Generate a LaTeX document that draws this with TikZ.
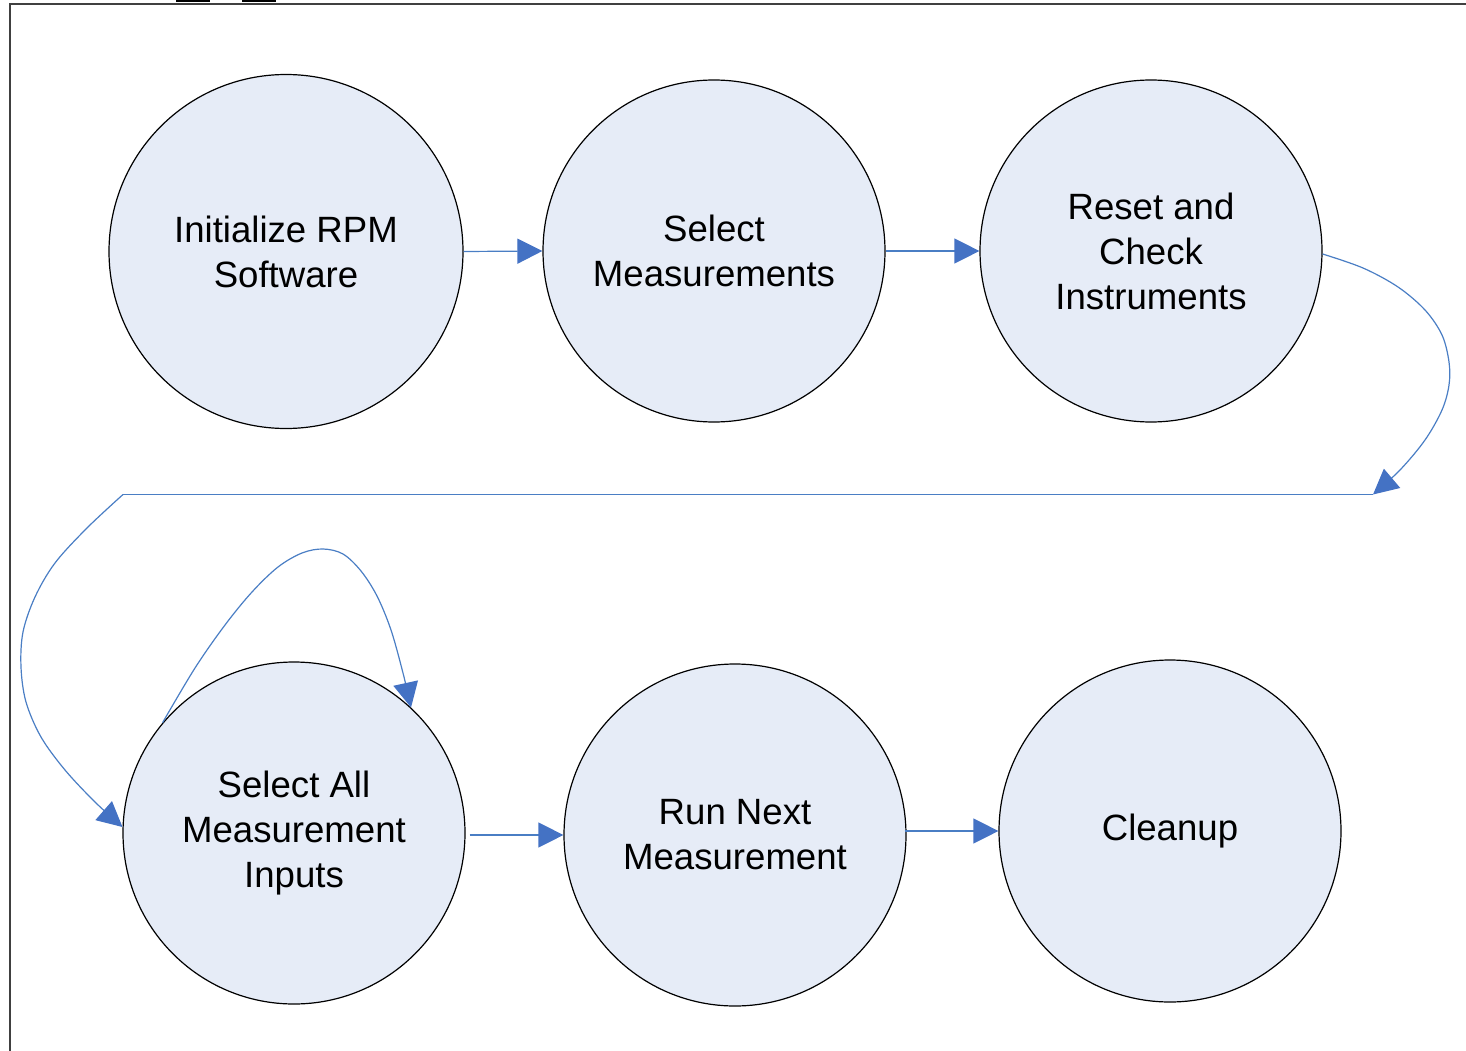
\documentclass[tikz,border=0pt]{standalone}
\usepackage{fontspec}
\setmainfont{Liberation Sans}
\usetikzlibrary{arrows.meta}
\definecolor{cfill}{RGB}{230,236,247}
\definecolor{cline}{RGB}{74,126,196}
\definecolor{chead}{RGB}{68,114,196}
\definecolor{cframe}{RGB}{64,64,64}
\begin{document}
\begin{tikzpicture}[x=1pt,y=-1pt,
  state/.style={circle,draw=black,line width=1.2pt,fill=cfill,inner sep=0pt,
    minimum size=342pt,align=center,font=\fontsize{36.6}{45}\selectfont},
  conn/.style={draw=cline,line width=1.2pt},
  arr/.style={conn,-{Triangle[length=25pt,width=25pt,fill=chead,color=chead]}},
  frameline/.style={draw=cframe,line width=2pt}]
\useasboundingbox (0,0) rectangle (1466,1051);
% frame
\draw[frameline] (10,1051) -- (10,4) -- (1466,4);
\draw[line width=1.5pt] (176,1.2) -- (210,1.2);
\draw[line width=1.5pt] (242,1.2) -- (276,1.2);
% states
\node[state,minimum size=354pt] (c1) at (286,251.5) {Initialize RPM\\Software};
\node[state] (c2) at (714,251) {Select\\Measurements};
\node[state] (c3) at (1151,251) {Reset and\\Check\\Instruments};
\node[state] (c4) at (294,833) {Select All\\Measurement\\Inputs};
\node[state] (c5) at (735,835) {Run Next\\Measurement};
\node[state] (c6) at (1170,831) {Cleanup};
% corners of the wrap-around connector
\coordinate (k1) at (1373,494.5);
\coordinate (k2) at (123,494.5);
% straight connectors
\draw[arr] (c1.east) -- (c2.west);
\draw[arr] (c2.east) -- (c3.west);
\draw[arr] ([xshift=4pt]c4.east |- c5.west) -- (c5.west);
\draw[arr] ([xshift=-2pt]c5.east |- c6.west) -- (c6.west);
% wrap-around connector
\draw[arr] plot[smooth,tension=0.55] coordinates {(c3.-1) (1363,268) (1398,287) (1425,310) (1442,335) (1449,362) (1449,385) (1442,410) (1425,440) (1400,470) (k1)};
\draw[conn] (k1) -- (k2);
\draw[arr] plot[smooth,tension=0.55] coordinates {(k2) (87,528) (55,563) (35,597) (23,632) (21,667) (26,702) (41,737) (65,770) (95,802) (c4.178)};
% self loop
\draw[arr] plot[smooth,tension=0.55] coordinates {(c4.140) (195,668) (225,625) (252,592) (278,567) (302,553) (323,549) (343,554) (361,571) (377,596) (391,630) (403,673) (c4.47)};
\end{tikzpicture}
\end{document}
